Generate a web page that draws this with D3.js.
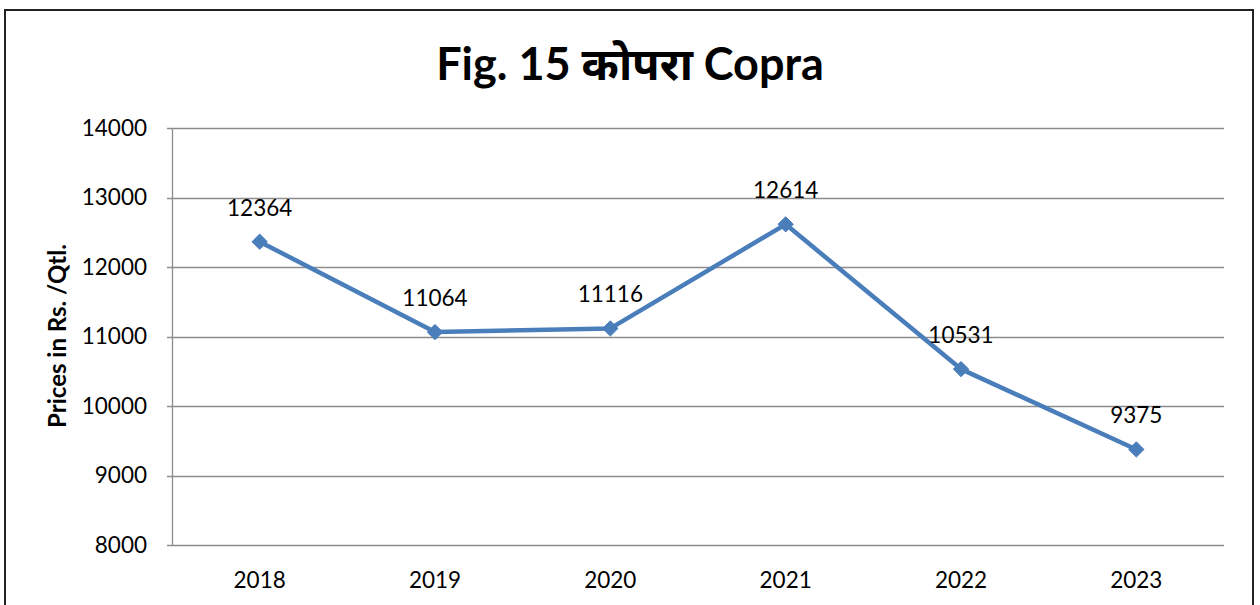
<!DOCTYPE html>
<html>
<head>
<meta charset="utf-8">
<script src="https://cdn.jsdelivr.net/npm/d3@7"></script>
<style>
  body { margin: 0; background: #fff; }
  svg text { font-family: Lato, "Open Sans", "Noto Sans", sans-serif; fill: #000; }
</style>
</head>
<body>
<svg id="chart" width="1260" height="605"></svg>
<script>
// Copra prices, Rs./Qtl.
var years = ["2018", "2019", "2020", "2021", "2022", "2023"];
var prices = [12364, 11064, 11116, 12614, 10531, 9375];
var yTicks = [8000, 9000, 10000, 11000, 12000, 13000, 14000];

var svg = d3.select("#chart");

// outer frame
svg.append("rect")
    .attr("x", 5).attr("y", 10)
    .attr("width", 1248).attr("height", 610)
    .attr("fill", "#fff")
    .attr("stroke", "#222")
    .attr("stroke-width", 2);

var plotLeft = 172, plotRight = 1224, plotTop = 128, plotBottom = 545;

var xScale = d3.scaleBand()
    .domain(years)
    .range([plotLeft, plotRight]);

var yScale = d3.scaleLinear()
    .domain([8000, 14000])
    .range([plotBottom, plotTop]);

function cx(i) { return xScale(years[i]) + xScale.bandwidth() / 2; }

// gridlines
svg.append("g")
    .selectAll("line")
    .data(yTicks)
    .enter()
    .append("line")
    .attr("x1", plotLeft - 5)
    .attr("x2", plotRight)
    .attr("y1", function (d) { return Math.round(yScale(d)) + 0.5; })
    .attr("y2", function (d) { return Math.round(yScale(d)) + 0.5; })
    .attr("stroke", "#8c8c8c")
    .attr("stroke-width", 1.3);

// y axis line
svg.append("line")
    .attr("x1", plotLeft + 0.5).attr("x2", plotLeft + 0.5)
    .attr("y1", plotTop).attr("y2", plotBottom)
    .attr("stroke", "#8c8c8c")
    .attr("stroke-width", 1.3);

// y tick labels
svg.append("g")
    .selectAll("text")
    .data(yTicks)
    .enter()
    .append("text")
    .attr("x", 147)
    .attr("y", function (d) { return yScale(d); })
    .attr("dy", "0.35em")
    .attr("text-anchor", "end")
    .style("font-size", "22.5px")
    .text(function (d) { return d; });

// x tick labels
svg.append("g")
    .selectAll("text")
    .data(years)
    .enter()
    .append("text")
    .attr("x", function (d, i) { return cx(i); })
    .attr("y", 588)
    .attr("text-anchor", "middle")
    .style("font-size", "22.5px")
    .text(function (d) { return d; });

// title
svg.append("text")
    .attr("x", 630)
    .attr("y", 80)
    .attr("text-anchor", "middle")
    .style("font-size", "45px")
    .style("font-weight", "bold")
    .text("Fig. 15 कोपरा Copra");

// y axis title
svg.append("text")
    .attr("transform", "translate(66,336) rotate(-90)")
    .attr("text-anchor", "middle")
    .style("font-size", "24px")
    .style("font-weight", "bold")
    .text("Prices in Rs. /Qtl.");

// line
var line = d3.line()
    .x(function (d, i) { return cx(i); })
    .y(function (d) { return yScale(d); });

svg.append("path")
    .datum(prices)
    .attr("d", line)
    .attr("fill", "none")
    .attr("stroke", "#4a7ebb")
    .attr("stroke-width", 4.5)
    .attr("stroke-linejoin", "round");

// diamond markers
svg.append("g")
    .selectAll("path")
    .data(prices)
    .enter()
    .append("path")
    .attr("d", d3.symbol().type(d3.symbolDiamond2).size(150))
    .attr("transform", function (d, i) {
        return "translate(" + cx(i) + "," + yScale(d) + ")";
    })
    .attr("fill", "#4a7ebb")
    .attr("stroke", "#4a7ebb")
    .attr("stroke-width", 1);

// data labels
svg.append("g")
    .selectAll("text")
    .data(prices)
    .enter()
    .append("text")
    .attr("x", function (d, i) { return cx(i); })
    .attr("y", function (d) { return yScale(d) - 26; })
    .attr("text-anchor", "middle")
    .style("font-size", "22.5px")
    .text(function (d) { return d; });
</script>
</body>
</html>
